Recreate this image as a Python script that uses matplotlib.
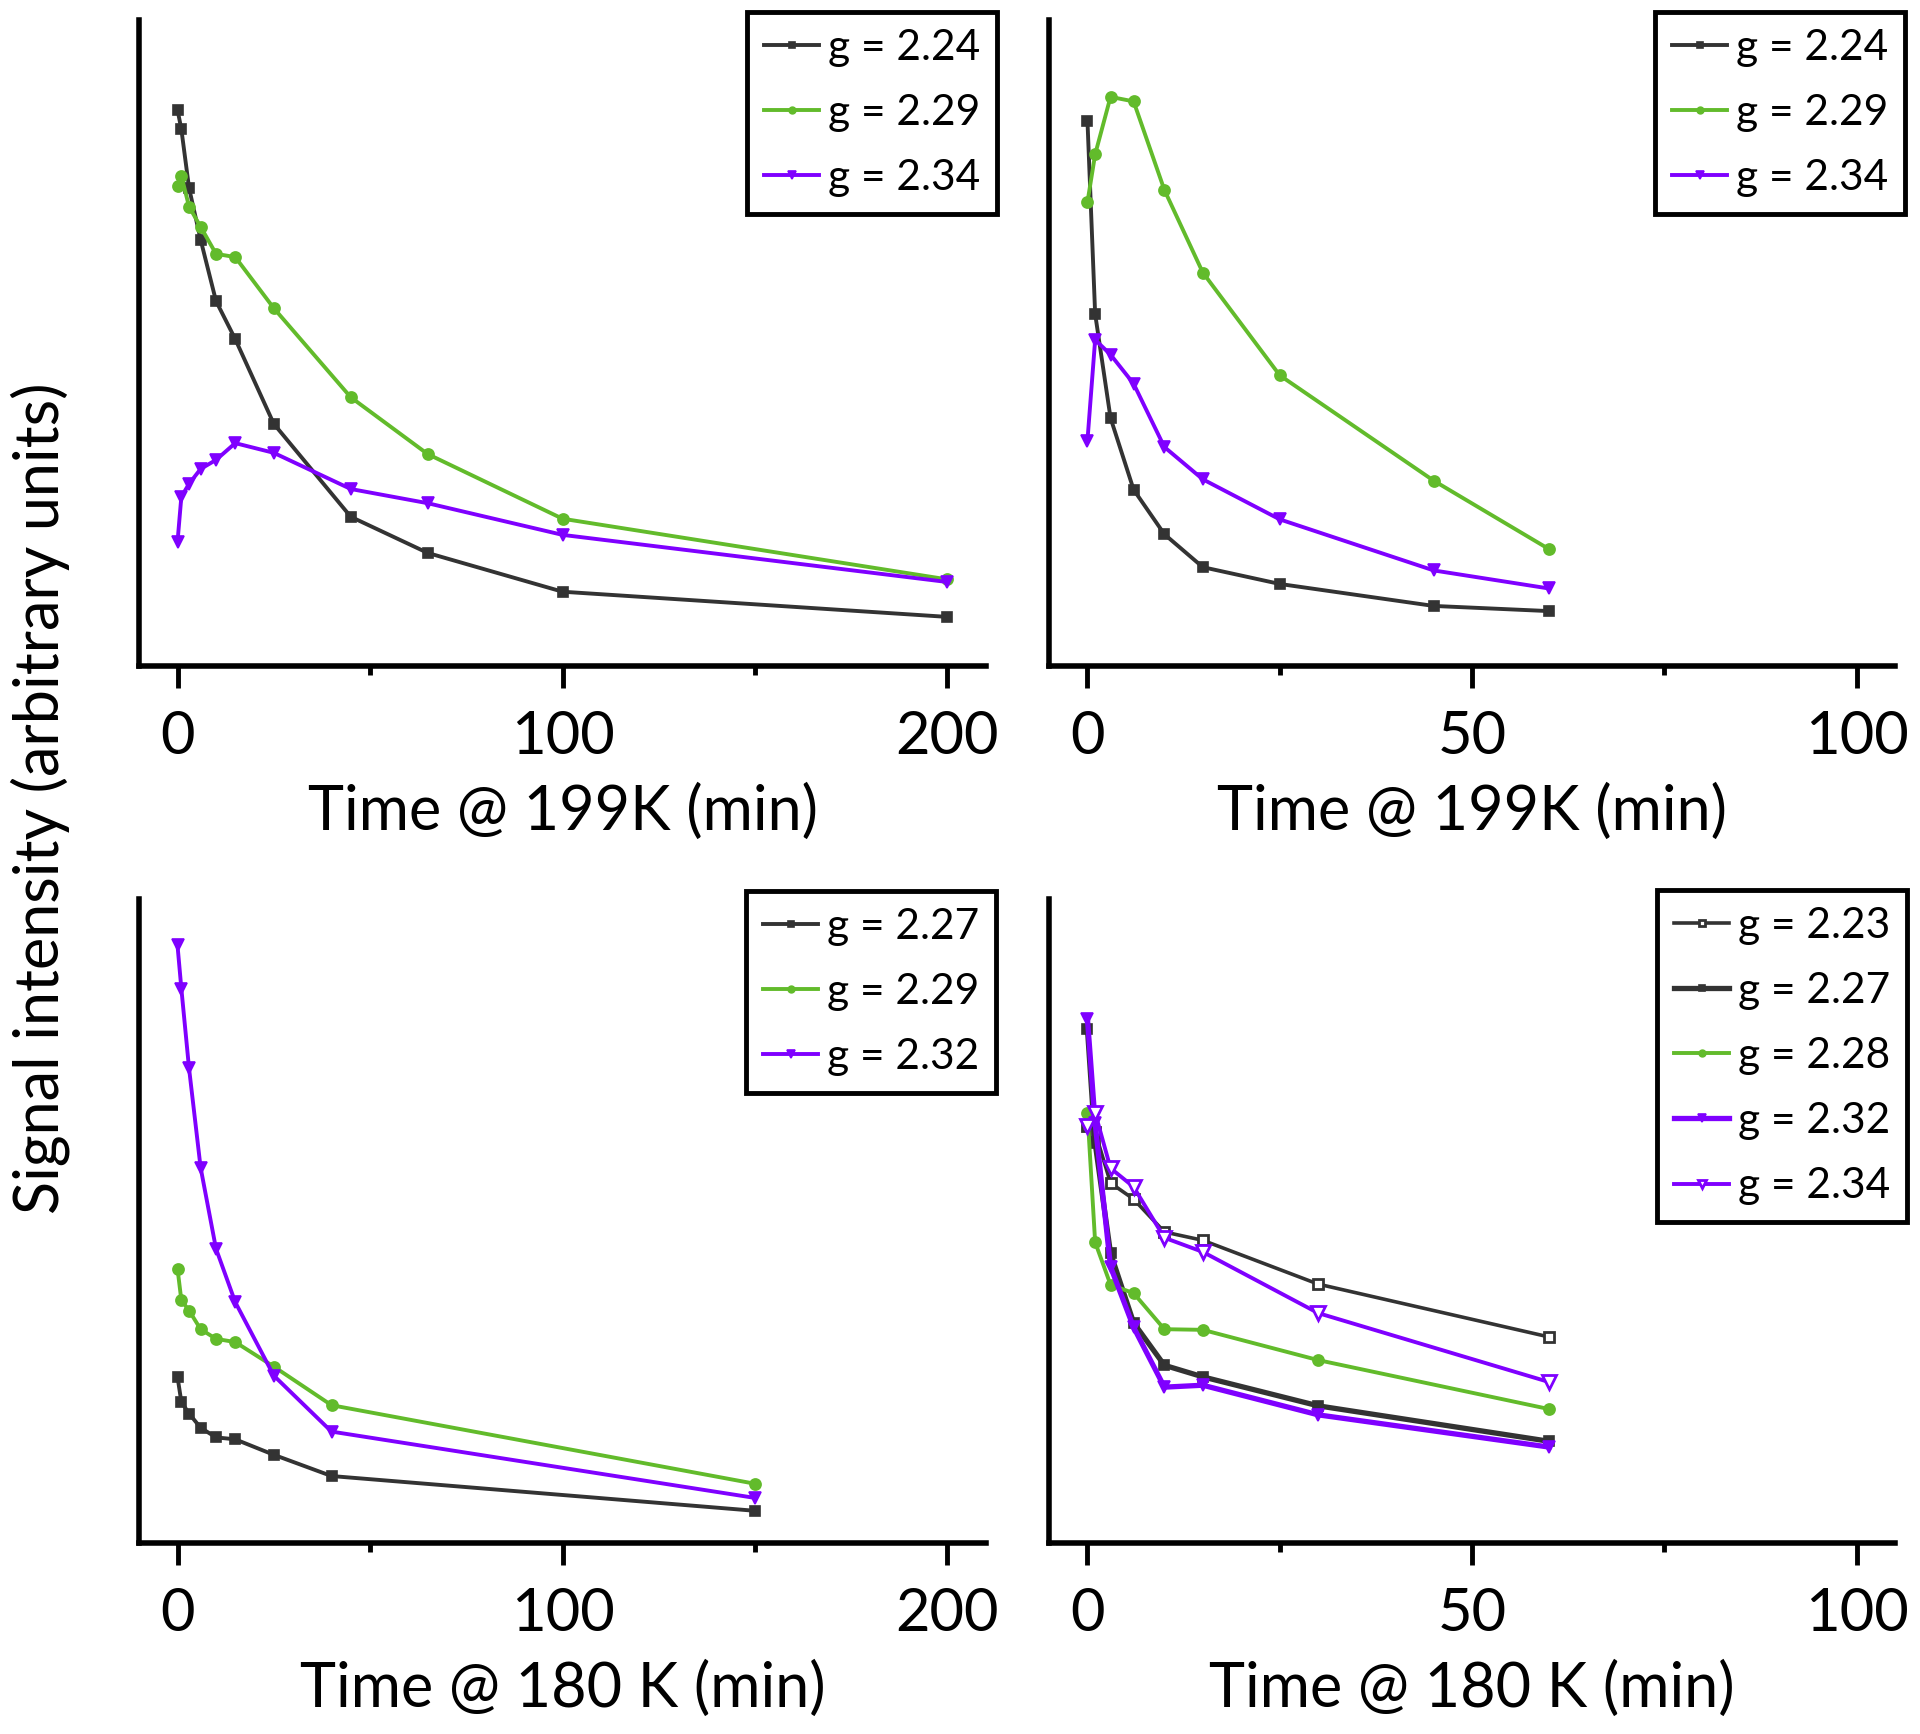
import matplotlib
matplotlib.use("Agg")
import matplotlib.pyplot as plt
from matplotlib.ticker import MultipleLocator

plt.rcParams['font.family'] = ['Lato', 'DejaVu Sans']

# colours
DARK = '#333333'
GREEN = '#62bb2b'
PURPLE = '#7f00ff'

# top left: 199 K, long run
t_a = [0, 1, 3, 6, 10, 15, 25, 45, 65, 100, 200]
a_224 = [86.1, 83.1, 74.0, 66.0, 56.5, 50.6, 37.5, 23.1, 17.5, 11.5, 7.6]
a_229 = [74.3, 75.9, 71.1, 68.0, 63.8, 63.3, 55.4, 41.6, 32.8, 22.8, 13.4]
a_234 = [19.2, 26.2, 28.2, 30.5, 31.9, 34.5, 33.0, 27.4, 25.2, 20.3, 13.0]

# top right: 199 K, short run
t_b = [0, 1, 3, 6, 10, 15, 25, 45, 60]
b_224 = [84.4, 54.5, 38.4, 27.3, 20.4, 15.3, 12.7, 9.3, 8.5]
b_229 = [71.8, 79.2, 88.1, 87.4, 73.7, 60.9, 45.0, 28.7, 18.1]
b_234 = [34.9, 50.5, 48.2, 43.7, 33.9, 28.9, 22.7, 14.8, 12.0]

# bottom left: 180 K, long run
t_c = [0, 1, 3, 6, 10, 15, 25, 40, 150]
c_227 = [25.8, 21.9, 20.1, 17.9, 16.4, 16.1, 13.7, 10.4, 5.0]
c_229 = [42.6, 37.7, 36.1, 33.2, 31.7, 31.2, 27.4, 21.4, 9.2]
c_232 = [92.8, 86.1, 73.7, 58.3, 45.7, 37.4, 26.0, 17.3, 7.0]

# bottom right: 180 K, short run
t_d = [0, 1, 3, 6, 10, 15, 30, 60]
d_223 = [64.8, 63.8, 55.9, 53.4, 48.3, 47.0, 40.2, 32.0]
d_227 = [79.8, 62.1, 45.0, 34.2, 27.6, 25.8, 21.3, 15.8]
d_228 = [66.8, 46.7, 40.1, 38.8, 33.2, 33.1, 28.4, 20.8]
d_232 = [81.4, 65.2, 42.9, 33.5, 24.2, 24.5, 19.9, 14.9]
d_234 = [64.8, 66.8, 58.2, 55.3, 47.4, 45.2, 35.7, 25.0]

W, H = 1920, 1734
fig = plt.figure(figsize=(W / 100, H / 100), dpi=100)


# Builds one panel in pixel coordinates of the figure
def make_axes(left, top, right, bottom, xlim, major, minor, xlabel):
    ax = fig.add_axes([left / W, 1 - bottom / H, (right - left) / W, (bottom - top) / H])
    ax.set_xlim(*xlim)
    ax.set_ylim(0, 100)
    for s in ['top', 'right']:
        ax.spines[s].set_visible(False)
    for s in ['left', 'bottom']:
        ax.spines[s].set_linewidth(4.0)
        ax.spines[s].set_color('black')
    ax.set_yticks([])
    ax.xaxis.set_major_locator(MultipleLocator(major))
    ax.xaxis.set_minor_locator(MultipleLocator(minor))
    ax.tick_params(axis='x', which='major', direction='out', length=16, width=3.5,
                   labelsize=43, pad=16)
    ax.tick_params(axis='x', which='minor', direction='out', length=6.5, width=3.5)
    ax.set_xlabel(xlabel, fontsize=44, labelpad=14)
    return ax


def series(ax, t, y, color, marker, ms, lw=2.8, hollow=False, label=None):
    kw = dict(color=color, lw=lw, marker=marker, ms=ms, label=label,
              mec=color, mew=1.2)
    if hollow:
        kw['mfc'] = 'white'
        kw['mew'] = 2.0
    else:
        kw['mfc'] = color
    return ax.plot(t, y, **kw)[0]


def legend(ax, x_right, y_top):
    leg = ax.legend(loc='upper right', bbox_to_anchor=(x_right / W, 1 - y_top / H),
                    bbox_transform=fig.transFigure, fontsize=30.5, frameon=True,
                    fancybox=False, framealpha=1, edgecolor='black',
                    handlelength=1.3, handletextpad=0.2, borderpad=0.4,
                    labelspacing=0.64, borderaxespad=0, markerscale=0.6)
    leg.get_frame().set_linewidth(3.5)
    return leg


ax1 = make_axes(139, 20, 986, 666, (-10, 210), 100, 50, 'Time @ 199K (min)')
series(ax1, t_a, a_224, DARK, 's', 7, label='g = 2.24')
series(ax1, t_a, a_229, GREEN, 'o', 8, label='g = 2.29')
series(ax1, t_a, a_234, PURPLE, 'v', 9, label='g = 2.34')
legend(ax1, 997, 12)

ax2 = make_axes(1049, 20, 1895, 666, (-5, 105), 50, 25, 'Time @ 199K (min)')
series(ax2, t_b, b_224, DARK, 's', 7, label='g = 2.24')
series(ax2, t_b, b_229, GREEN, 'o', 8, label='g = 2.29')
series(ax2, t_b, b_234, PURPLE, 'v', 9, label='g = 2.34')
legend(ax2, 1905, 12)

ax3 = make_axes(139, 899, 986, 1543, (-10, 210), 100, 50, 'Time @ 180 K (min)')
series(ax3, t_c, c_227, DARK, 's', 7, label='g = 2.27')
series(ax3, t_c, c_229, GREEN, 'o', 8, label='g = 2.29')
series(ax3, t_c, c_232, PURPLE, 'v', 9, label='g = 2.32')
legend(ax3, 996, 891)

ax4 = make_axes(1049, 899, 1895, 1543, (-5, 105), 50, 25, 'Time @ 180 K (min)')
series(ax4, t_d, d_223, DARK, 's', 7.5, lw=2.6, hollow=True, label='g = 2.23')
series(ax4, t_d, d_227, DARK, 's', 7.5, lw=3.8, label='g = 2.27')
series(ax4, t_d, d_228, GREEN, 'o', 8, lw=2.8, label='g = 2.28')
series(ax4, t_d, d_232, PURPLE, 'v', 9, lw=3.8, label='g = 2.32')
series(ax4, t_d, d_234, PURPLE, 'v', 9.5, lw=2.8, hollow=True, label='g = 2.34')
legend(ax4, 1907, 890)

fig.text(40 / W, 1 - 798 / H, 'Signal intensity (arbitrary units)', rotation=90,
         ha='center', va='center', fontsize=44)

fig.savefig('out.png', dpi=100)
